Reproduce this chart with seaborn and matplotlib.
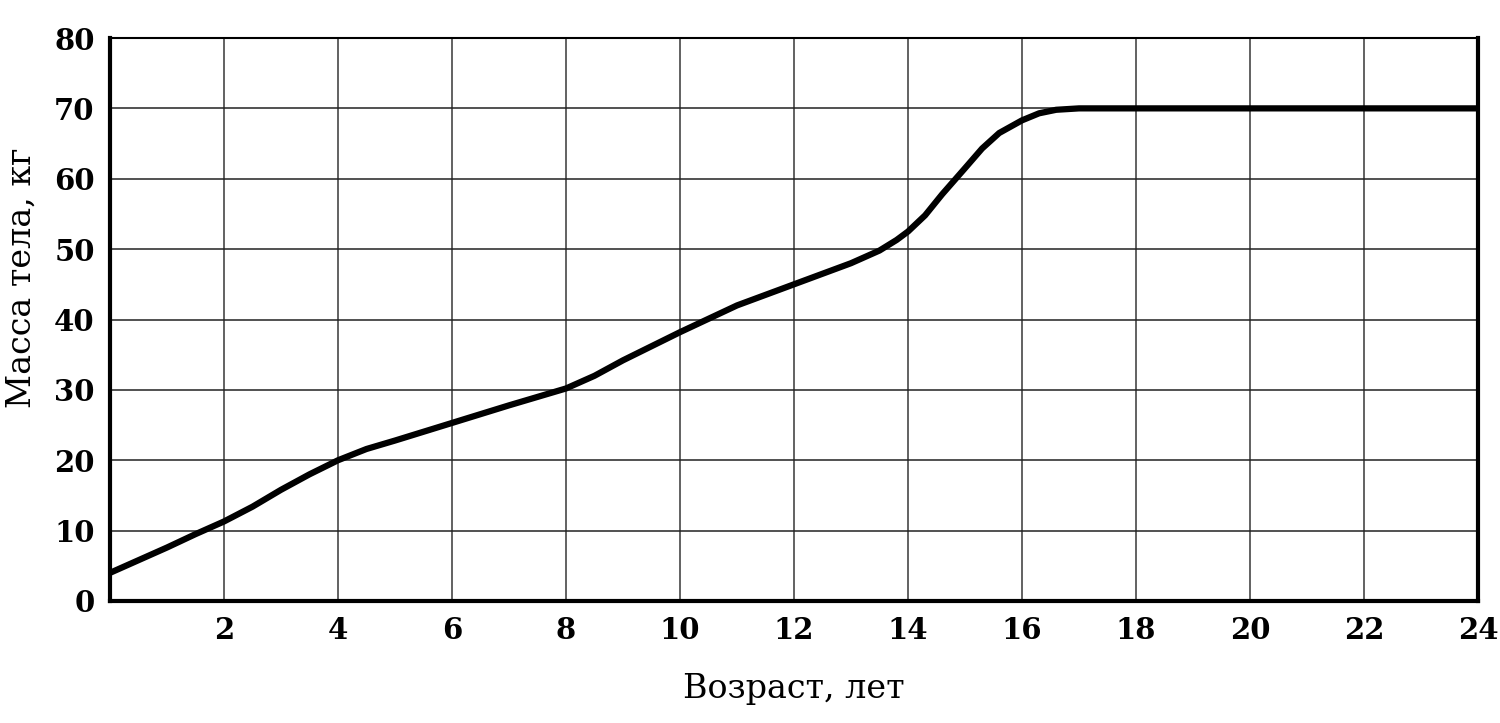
import matplotlib
matplotlib.use("Agg")
import matplotlib.pyplot as plt
import seaborn as sns
import pandas as pd

age = [0, 0.5, 1, 1.5, 2, 2.5, 3, 3.5, 4, 4.5, 5, 6, 7, 8, 8.5, 9, 10, 11, 12, 13,
       13.5, 13.8, 14, 14.3, 14.6, 15, 15.3, 15.6, 16, 16.3, 16.6, 17, 18, 20, 22, 24]
mass = [4, 5.8, 7.6, 9.5, 11.3, 13.4, 15.8, 18, 20, 21.6, 22.8, 25.3, 27.8, 30.2, 32,
        34.2, 38.2, 42, 45, 48, 49.8, 51.3, 52.5, 54.8, 57.8, 61.5, 64.3, 66.5, 68.3,
        69.3, 69.8, 70, 70, 70, 70, 70]

x_ticks = [2, 4, 6, 8, 10, 12, 14, 16, 18, 20, 22, 24]
y_ticks = [0, 10, 20, 30, 40, 50, 60, 70, 80]

xlabel = "Возраст, лет"
ylabel = "Масса тела, кг"

sns.set_theme(style="white")
plt.rcParams['font.family'] = ['DejaVu Serif', 'Liberation Serif']
plt.rcParams['text.color'] = 'black'
plt.rcParams['axes.labelcolor'] = 'black'
plt.rcParams['xtick.color'] = 'black'
plt.rcParams['ytick.color'] = 'black'

df = pd.DataFrame({"age": age, "mass": mass})

fig = plt.figure(figsize=(15, 7.23), dpi=100)
ax = fig.add_axes([110/1500, 1 - 601/723, (1478 - 110)/1500, (601 - 38)/723])

for xv in range(0, 25, 2):
    ax.axvline(xv, color="#555555", lw=1.3, zorder=1)
for yv in y_ticks:
    ax.axhline(yv, color="#222222", lw=1.1, zorder=1)

sns.lineplot(data=df, x="age", y="mass", ax=ax, color="black", lw=4.5, zorder=3)

ax.set_xlim(0, 24)
ax.set_ylim(0, 80)
ax.set_xticks(x_ticks)
ax.set_yticks(y_ticks)
ax.set_xticklabels([str(t) for t in x_ticks], fontsize=21, fontweight="bold", color="black")
ax.set_yticklabels([str(t) for t in y_ticks], fontsize=21, fontweight="bold", color="black")
ax.tick_params(axis="both", direction="inout", length=6, width=2, color="black", pad=8)
ax.tick_params(axis="x", pad=8)

ax.set_xlabel(xlabel, fontsize=24, color="black")
ax.set_ylabel(ylabel, fontsize=24, color="black")
ax.xaxis.set_label_coords(0.5, -0.128)
ax.yaxis.set_label_coords(-0.053, 0.575)

for side, w in [("left", 3), ("bottom", 3), ("right", 3), ("top", 1.5)]:
    ax.spines[side].set_visible(True)
    ax.spines[side].set_color("black")
    ax.spines[side].set_linewidth(w)

fig.savefig("out.png", dpi=100, facecolor="white")
